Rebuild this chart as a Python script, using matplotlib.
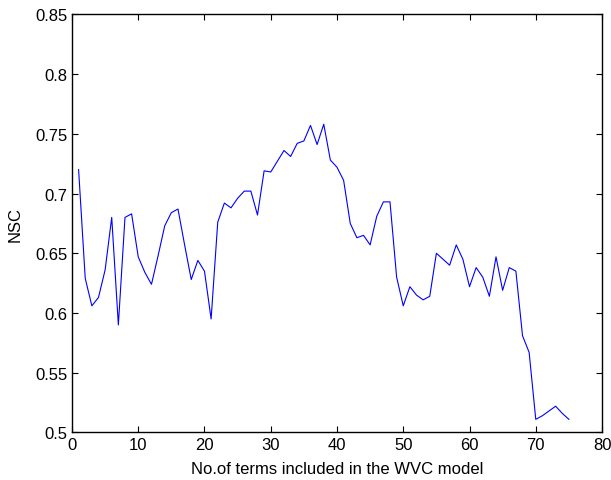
import matplotlib
matplotlib.use("Agg")
import matplotlib.pyplot as plt

terms = list(range(1, 76))
nsc = [0.720, 0.629, 0.606, 0.613, 0.636, 0.680, 0.590, 0.680, 0.683, 0.647,
       0.634, 0.624, 0.648, 0.673, 0.684, 0.687, 0.657, 0.628, 0.644, 0.635,
       0.595, 0.676, 0.692, 0.688, 0.696, 0.702, 0.702, 0.682, 0.719, 0.718,
       0.727, 0.736, 0.731, 0.742, 0.744, 0.757, 0.741, 0.758, 0.728, 0.722,
       0.711, 0.675, 0.663, 0.665, 0.657, 0.681, 0.693, 0.693, 0.630, 0.606,
       0.622, 0.615, 0.611, 0.614, 0.650, 0.645, 0.640, 0.657, 0.645, 0.622,
       0.638, 0.630, 0.614, 0.647, 0.619, 0.638, 0.635, 0.581, 0.567, 0.511,
       0.514, 0.518, 0.522, 0.516, 0.511]

xticks = [0, 10, 20, 30, 40, 50, 60, 70, 80]
yticks = [0.5, 0.55, 0.6, 0.65, 0.7, 0.75, 0.8, 0.85]
ytick_labels = ["0.5", "0.55", "0.6", "0.65", "0.7", "0.75", "0.8", "0.85"]

plt.rcParams['font.family'] = ['Liberation Sans', 'DejaVu Sans']

fig = plt.figure(figsize=(6.11, 4.81), dpi=100)
ax = fig.add_axes([0.1178, 0.0988, 0.8675, 0.8694])
ax.plot(terms, nsc, color=(0, 0, 1), linewidth=0.8)
ax.set_xlim(0, 80)
ax.set_ylim(0.5, 0.85)
ax.set_xticks(xticks)
ax.set_xticklabels([str(v) for v in xticks])
ax.set_yticks(yticks)
ax.set_yticklabels(ytick_labels)
ax.tick_params(direction='in', top=True, right=True, length=4, width=0.8,
               labelsize=12, colors='black', pad=3)
for s in ax.spines.values():
    s.set_linewidth(1.0)
ax.set_xlabel("No.of terms included in the WVC model", fontsize=12, labelpad=7)
ax.set_ylabel("NSC", fontsize=12, labelpad=9)
fig.savefig("out.png", dpi=100)
